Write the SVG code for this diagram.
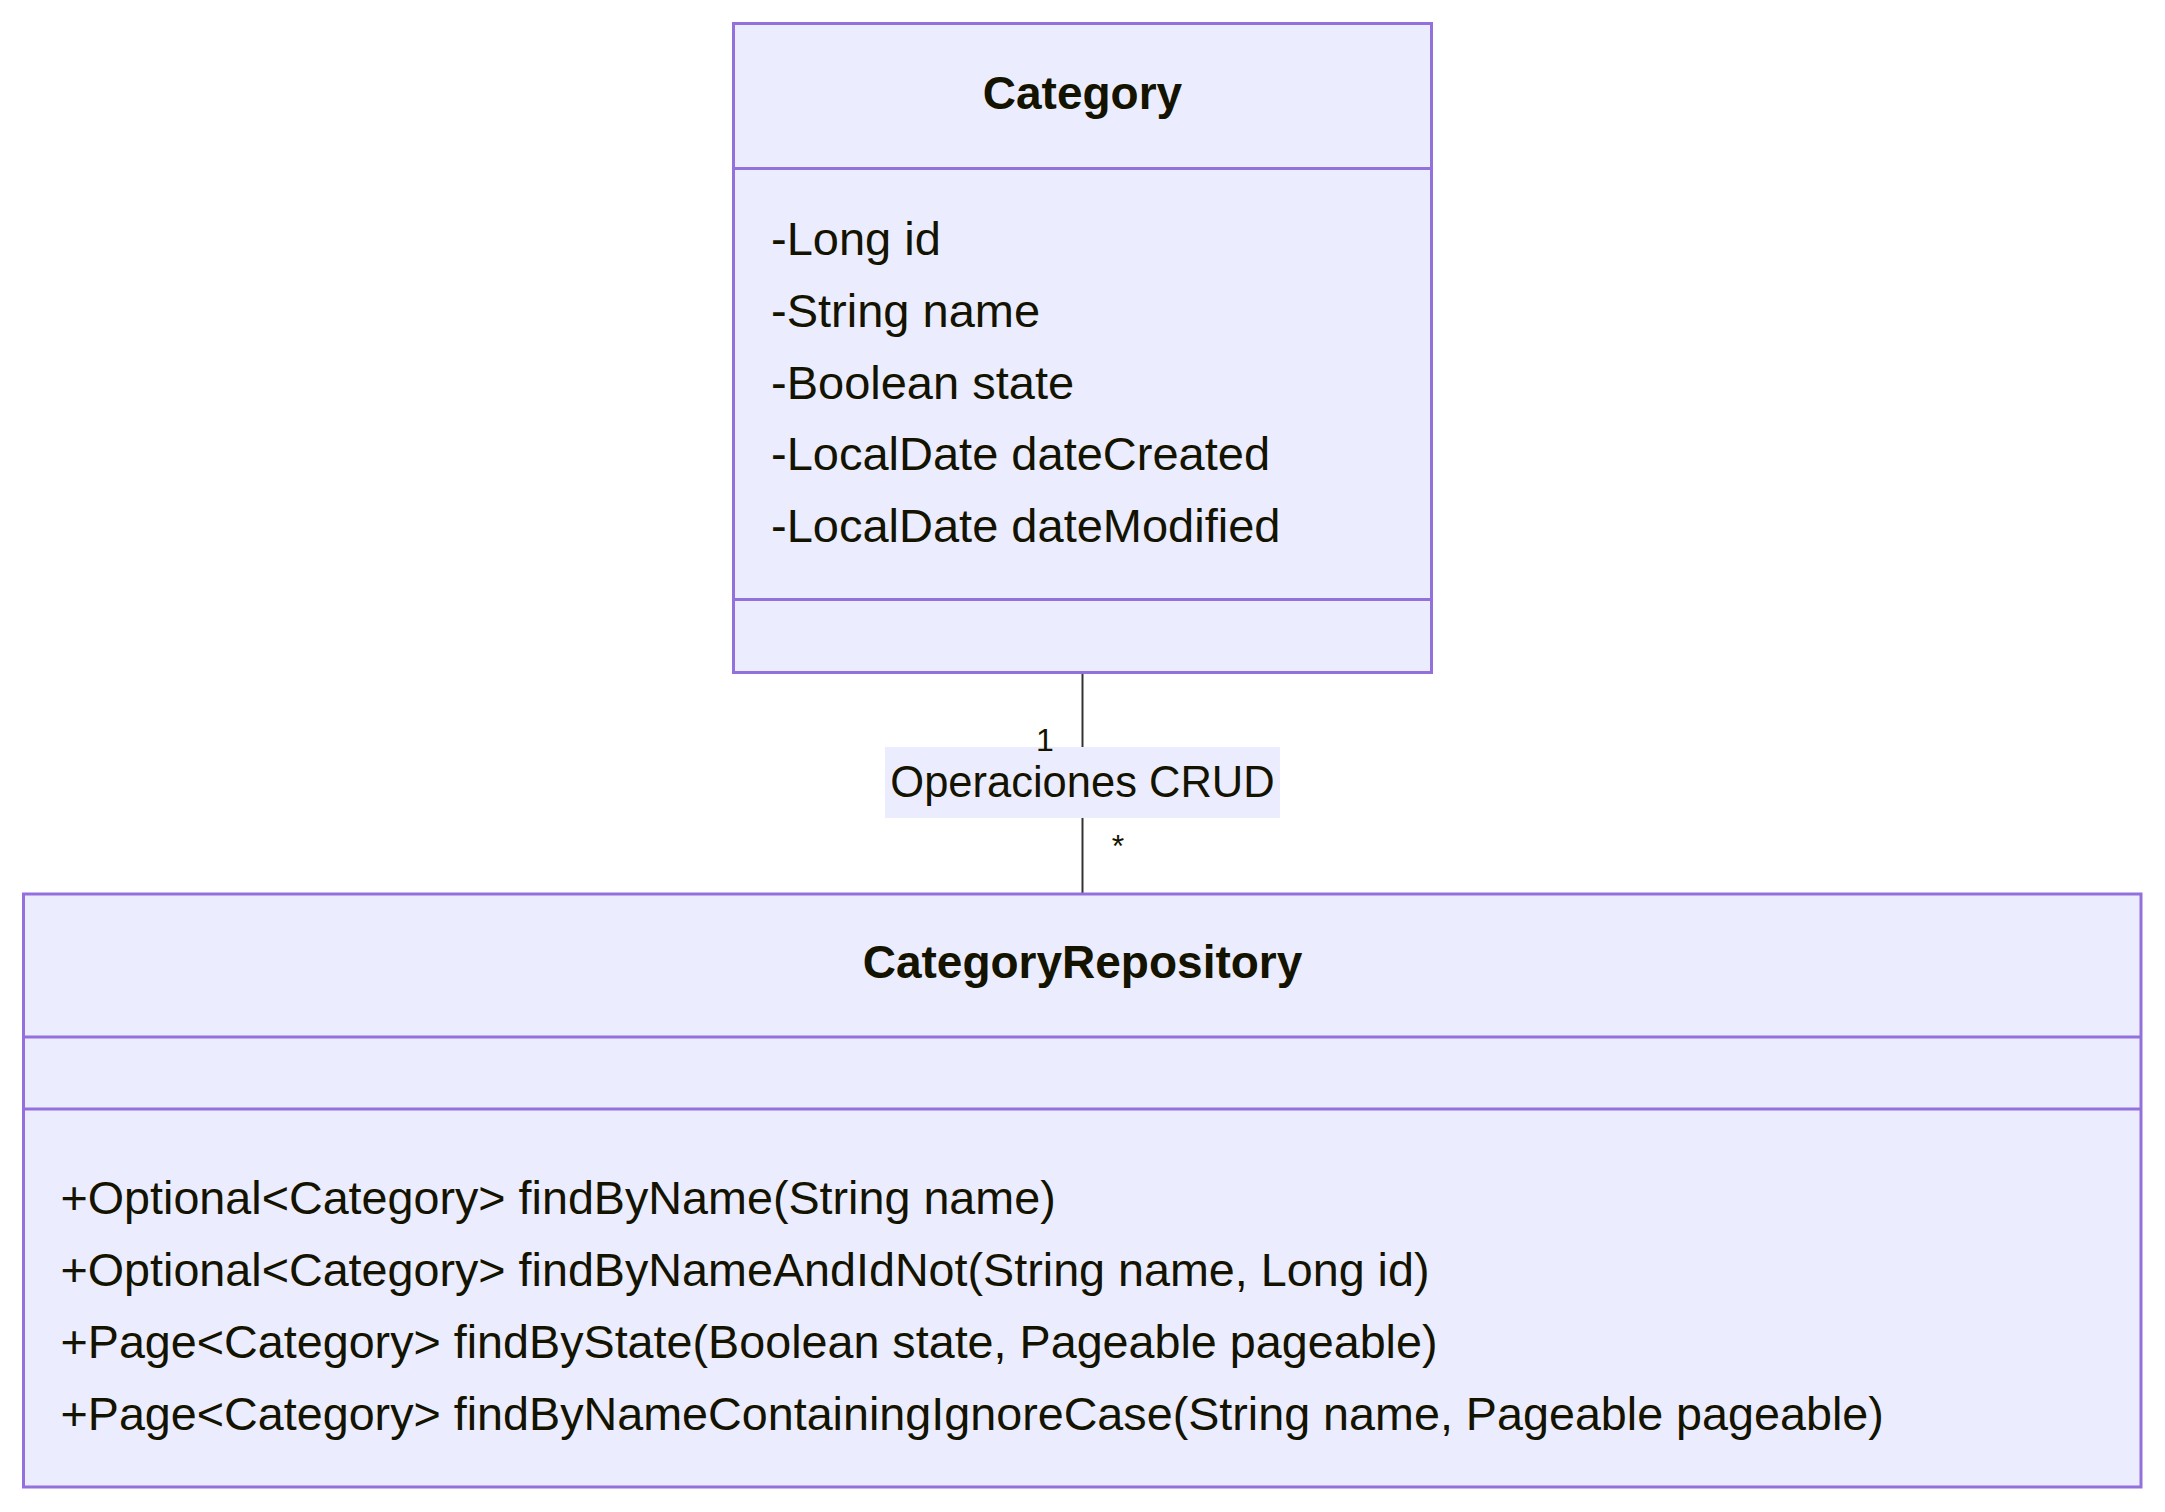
<svg xmlns="http://www.w3.org/2000/svg" width="2165" height="1512" viewBox="0 0 2165 1512">
<style>
.box{fill:#ECECFF;stroke:#9370DB;stroke-width:3}
.div{stroke:#9370DB;stroke-width:3}
.t{font-family:"Liberation Sans",Arial,sans-serif;fill:#131300;font-size:47px}
.m{font-size:46.7px}
.b{font-weight:bold;font-size:46px;text-anchor:middle}
.e{font-size:43.5px;text-anchor:middle}
.edge{stroke:#333333;stroke-width:2;fill:none}
.lbl{fill:#ECECFF}
.card{font-family:"Liberation Sans",Arial,sans-serif;fill:#131300;font-size:32px;text-anchor:middle}
</style>
<rect width="2165" height="1512" fill="#ffffff"/>
<g id="connectors">
<line class="edge" x1="1082.5" y1="672" x2="1082.5" y2="893"/>
<rect class="lbl" x="885" y="747" width="395" height="71"/>
<text class="t e" x="1082.5" y="797">Operaciones CRUD</text>
<text class="card" x="1045" y="751">1</text>
<text class="card" x="1118" y="857">*</text>
</g>
<g id="Category">
<rect class="box" x="733.5" y="23.5" width="698" height="649"/>
<line class="div" x1="733.5" y1="168.5" x2="1431.5" y2="168.5"/>
<line class="div" x1="733.5" y1="599.5" x2="1431.5" y2="599.5"/>
<text class="t b" x="1082.5" y="109">Category</text>
<text class="t" x="771" y="255">-Long id</text>
<text class="t" x="771" y="327">-String name</text>
<text class="t" x="771" y="399">-Boolean state</text>
<text class="t" x="771" y="470">-LocalDate dateCreated</text>
<text class="t" x="771" y="542">-LocalDate dateModified</text>
</g>
<g id="CategoryRepository">
<rect class="box" x="23.5" y="894" width="2117.5" height="593"/>
<line class="div" x1="23.5" y1="1037" x2="2141" y2="1037"/>
<line class="div" x1="23.5" y1="1109" x2="2141" y2="1109"/>
<text class="t b" x="1082.5" y="978">CategoryRepository</text>
<text class="t m" x="60.5" y="1214">+Optional&lt;Category&gt; findByName(String name)</text>
<text class="t m" x="60.5" y="1286">+Optional&lt;Category&gt; findByNameAndIdNot(String name, Long id)</text>
<text class="t m" x="60.5" y="1358">+Page&lt;Category&gt; findByState(Boolean state, Pageable pageable)</text>
<text class="t m" x="60.5" y="1430">+Page&lt;Category&gt; findByNameContainingIgnoreCase(String name, Pageable pageable)</text>
</g>
</svg>
